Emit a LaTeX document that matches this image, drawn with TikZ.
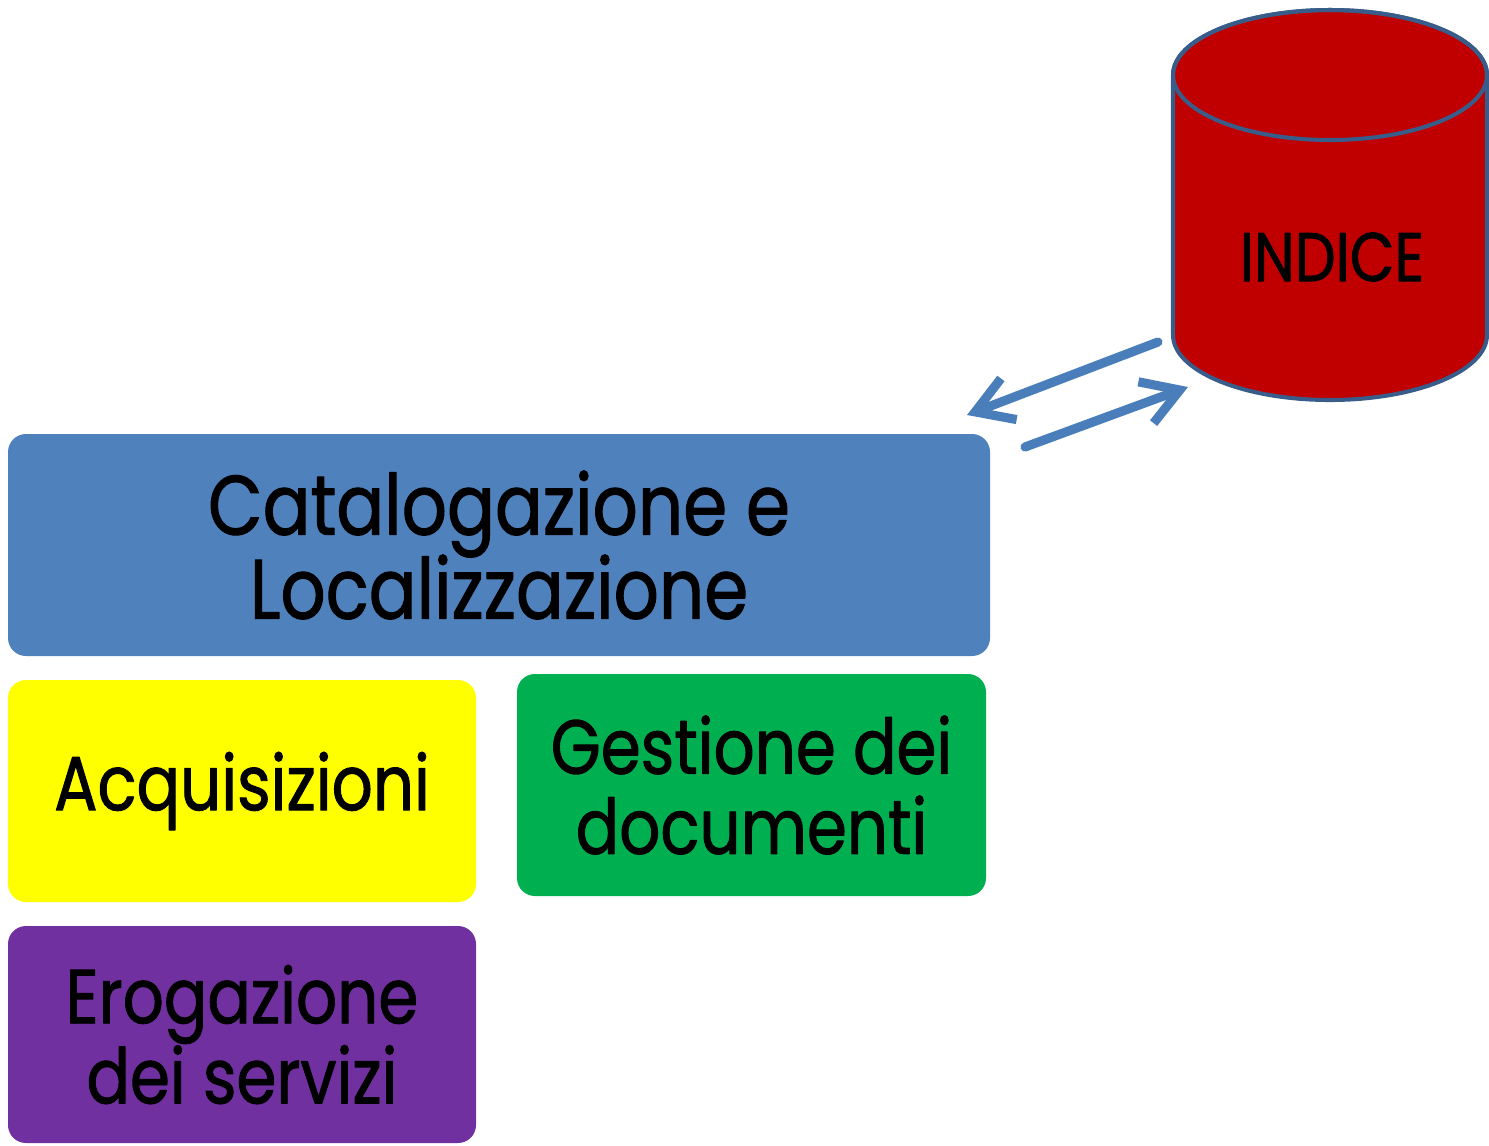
\documentclass[tikz,border=0pt]{standalone}
\usepackage{fontspec}
\setmainfont{Poppins}[FakeStretch=0.84,FakeBold=1.2]
\usetikzlibrary{arrows.meta}
\definecolor{catblue}{RGB}{79,129,189}
\definecolor{acqyellow}{RGB}{255,255,0}
\definecolor{gesgreen}{RGB}{0,176,80}
\definecolor{eropurple}{RGB}{112,48,160}
\definecolor{dbred}{RGB}{192,0,0}
\definecolor{dbline}{RGB}{56,93,138}
\definecolor{arrowblue}{RGB}{74,126,187}
\begin{document}
\begin{tikzpicture}[line join=round,line cap=round,
	blocco/.style={rounded corners=0.18cm,align=center,inner sep=0pt},
	grande/.style={font=\fontsize{24}{23.9}\selectfont},
	medio/.style={font=\fontsize{21.8}{22.8}\selectfont},
	freccia/.style={draw=arrowblue,line width=2.6pt,-{Straight Barb[length=3.6mm,width=4.4mm]}}]
	\lineskiplimit=-20pt\relax
	\useasboundingbox (0,0) rectangle (14.89,-11.45);
	\node[blocco,grande,fill=catblue,minimum width=9.82cm,minimum height=2.22cm] (catalogo) at (4.99,-5.45) {Catalogazione e\\Localizzazione};
	\node[blocco,medio,fill=acqyellow,minimum width=4.68cm,minimum height=2.22cm] (acquisizioni) at (2.42,-7.91) {Acquisizioni};
	\node[blocco,medio,fill=gesgreen,minimum width=4.69cm,minimum height=2.22cm] (gestione) at (7.515,-7.85) {Gestione dei\\documenti};
	\node[blocco,medio,fill=eropurple,minimum width=4.68cm,minimum height=2.17cm] (erogazione) at (2.42,-10.345) {Erogazione\\dei servizi};
	\filldraw[fill=dbred,draw=dbline,line width=1.15pt] (11.73,-0.75) -- (11.73,-3.35) arc (180:360:1.57 and 0.65) -- (14.87,-0.75) arc (0:180:1.57 and 0.65) -- cycle;
	\draw[dbline,line width=1.15pt] (13.30,-0.75) ellipse (1.57 and 0.65);
	\node[font=\fontsize{19.6}{20}\selectfont] (indice) at (13.32,-2.57) {INDICE};
	\coordinate (da1) at (11.58,-3.42);
	\coordinate (a1) at (9.67,-4.15);
	\coordinate (da2) at (10.25,-4.47);
	\coordinate (a2) at (11.88,-3.87);
	\draw[freccia] (da1) -- (a1);
	\draw[freccia] (da2) -- (a2);
\end{tikzpicture}
\end{document}
